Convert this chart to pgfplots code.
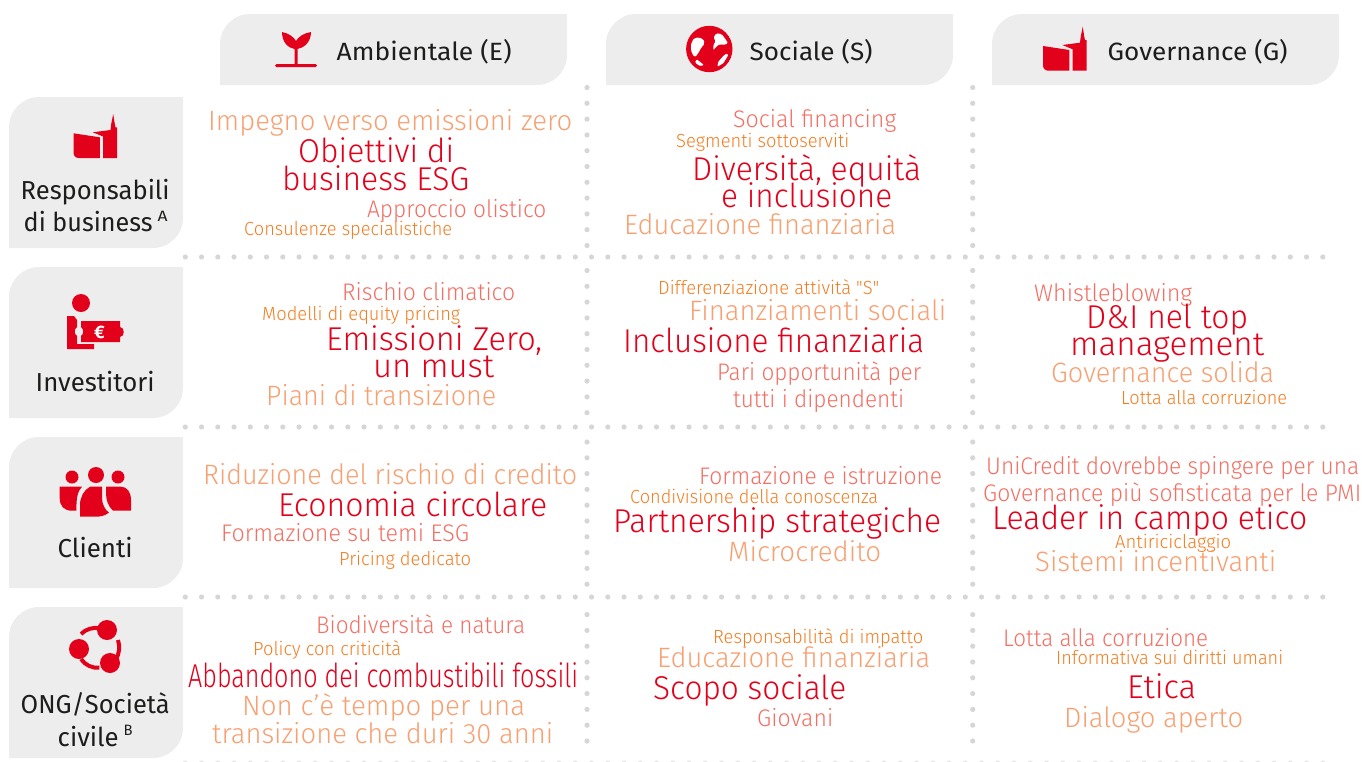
\documentclass[border=0pt]{standalone}
\usepackage{pgfplots}
\usepackage{graphicx}
\usepackage{fontspec}
\pgfplotsset{compat=1.18}
\setmainfont{Fira Sans}
\newfontfamily\lt{Fira Sans Light}
\definecolor{rd}{HTML}{E2001A}
\definecolor{sa}{HTML}{F36F64}
\definecolor{og}{HTML}{F47C20}
\definecolor{lo}{HTML}{F7A072}
\definecolor{gb}{HTML}{EDEDED}
\definecolor{dt}{HTML}{D6D6D6}
\definecolor{tx}{HTML}{1D1D1B}
\newcommand\W[6]{\node[anchor=base west,inner sep=0pt,text=#5] at (axis cs:#1-1,#3) {\resizebox{\dimexpr #2pt-#1pt+2pt\relax}{\height}{\lt\fontsize{#4}{#4}\selectfont #6}};}
\newcommand\WX[4]{\W{#1}{#2}{#3}{33}{rd}{#4}}
\newcommand\WL[4]{\W{#1}{#2}{#3}{28}{lo}{#4}}
\newcommand\WM[4]{\W{#1}{#2}{#3}{24}{sa}{#4}}
\newcommand\WS[4]{\W{#1}{#2}{#3}{19}{og}{#4}}
\newcommand\TT[5]{\node[anchor=base west,inner sep=0pt,text=tx] at (axis cs:#1-0.5,#3) {\resizebox{\dimexpr #2pt-#1pt+1pt\relax}{\height}{\fontsize{#4}{#4}\selectfont #5}};}
\newcommand\Panel[4]{\fill[gb] (axis cs:#1,#4) [rounded corners=30pt] -- (axis cs:#1,#3) [sharp corners] -- (axis cs:#2,#3) [rounded corners=30pt] -- (axis cs:#2,#4) [sharp corners] -- cycle;}
\newcommand\Bldg[2]{%
\fill[rd] (axis cs:#1-2,#2+19) -- (axis cs:#1+24.3,#2+23) -- (axis cs:#1+24.3,#2+43.7) -- (axis cs:#1+3.3,#2+43.7) .. controls (axis cs:#1,#2+43.7) and (axis cs:#1-2,#2+41.5) .. (axis cs:#1-2,#2+38) -- cycle;
\fill[rd] (axis cs:#1+17.3,#2+18) -- (axis cs:#1+35,#2+15.7) -- (axis cs:#1+35.7,#2+9.7) -- (axis cs:#1+37.7,#2-0.3) -- (axis cs:#1+39.3,#2+9.7) -- (axis cs:#1+40,#2+13) -- (axis cs:#1+41.7,#2+13) -- (axis cs:#1+41.7,#2+43.7) -- (axis cs:#1+27.7,#2+43.7) -- (axis cs:#1+27.7,#2+22.3) -- cycle;}
\newcommand\VD[2]{\addplot[dt,line width=5.2pt,line cap=round,dash pattern=on 0pt off 15.8pt] coordinates {(#1,#2)};}
\begin{document}
\begin{tikzpicture}
\begin{axis}[scale only axis,width=1362pt,height=761pt,xmin=0,xmax=1362,ymin=0,ymax=761,y dir=reverse,hide axis,clip=false]
% panels
\Panel{220}{567}{14}{85}
\Panel{606}{953}{14}{85}
\Panel{992}{1339}{14}{85}
\Panel{9}{183}{97}{248}
\Panel{9}{183}{267}{418}
\Panel{9}{183}{437}{588}
\Panel{9}{183}{607}{758}
% dotted rules
\addplot[dt,line width=5.2pt,line cap=round,dash pattern=on 0pt off 16.25pt] coordinates {(185.3,257)(1325,257)};
\addplot[dt,line width=5.2pt,line cap=round,dash pattern=on 0pt off 16.25pt] coordinates {(185.3,427)(1325,427)};
\addplot[dt,line width=5.2pt,line cap=round,dash pattern=on 0pt off 16.25pt] coordinates {(185.3,597)(1325,597)};
\addplot[dt!60,line width=5.2pt,line cap=round,dash pattern=on 0pt off 16.25pt] coordinates {(185.3,763)(1325,763)};
\addplot[dt,line width=5.2pt,line cap=round,dash pattern=on 0pt off 15.8pt] coordinates {(587,87.5)(587,246)};
\addplot[dt,line width=5.2pt,line cap=round,dash pattern=on 0pt off 15.8pt] coordinates {(587,270.5)(587,414)};
\addplot[dt,line width=5.2pt,line cap=round,dash pattern=on 0pt off 15.8pt] coordinates {(587,442)(587,585)};
\addplot[dt,line width=5.2pt,line cap=round,dash pattern=on 0pt off 15.8pt] coordinates {(587,614.6)(587,742)};
\addplot[dt,line width=5.2pt,line cap=round,dash pattern=on 0pt off 15.8pt] coordinates {(972.7,87.5)(972.7,246)};
\addplot[dt,line width=5.2pt,line cap=round,dash pattern=on 0pt off 15.8pt] coordinates {(972.7,270.5)(972.7,414)};
\addplot[dt,line width=5.2pt,line cap=round,dash pattern=on 0pt off 15.8pt] coordinates {(972.7,442)(972.7,585)};
\addplot[dt,line width=5.2pt,line cap=round,dash pattern=on 0pt off 15.8pt] coordinates {(972.7,614.6)(972.7,742)};
% headers
\TT{337}{511}{60}{25}{Ambientale (E)}
\TT{750}{872}{60}{25}{Sociale (S)}
\TT{1108}{1287}{60}{25}{Governance (G)}
% row labels
\TT{21}{169}{199}{26}{Responsabili}
\TT{24}{152}{231}{26}{di business}
\TT{158}{167}{221}{15}{A}
\TT{36}{154}{391}{26}{Investitori}
\TT{58}{132}{557}{26}{Clienti}
\TT{21}{169}{713}{26}{ONG/Società}
\TT{58}{118}{746}{26}{civile}
\TT{124}{132}{735}{15}{B}
% icons
\fill[rd] (axis cs:282,32) .. controls (axis cs:288,33) and (axis cs:294,37) .. (axis cs:296,41) .. controls (axis cs:298,37) and (axis cs:304,33) .. (axis cs:311,32) .. controls (axis cs:311,42) and (axis cs:304,48) .. (axis cs:297.5,49) -- (axis cs:297.5,64) -- (axis cs:294.5,64) -- (axis cs:294.5,49) .. controls (axis cs:288,48) and (axis cs:282,42) .. (axis cs:282,32) -- cycle;
\fill[rd,rounded corners=1.5pt] (axis cs:275,64) rectangle (axis cs:317,67);
% globe
\fill[rd] (axis cs:709.3,49) circle[radius=23.2pt];
\fill[white,rounded corners=2pt] (axis cs:695,37.3) -- (axis cs:702.7,38.3) -- (axis cs:705,43.3) -- (axis cs:700.7,48.3) -- (axis cs:698.3,53.3) -- (axis cs:695,57.3) -- (axis cs:691.7,53.3) -- (axis cs:690.7,46.7) -- (axis cs:691.7,41.7) -- cycle;
\fill[white,rounded corners=1pt] (axis cs:696.7,59.3) -- (axis cs:704,65) -- (axis cs:700,66) -- (axis cs:695,62.7) -- cycle;
\fill[white,rounded corners=1.5pt] (axis cs:716,33.3) -- (axis cs:721.7,34) -- (axis cs:728.3,43.3) -- (axis cs:723.3,45) -- (axis cs:720,44) -- (axis cs:716,46.7) -- (axis cs:713.3,50.7) -- (axis cs:713.3,45) -- (axis cs:716,40.7) -- (axis cs:713.3,38.3) -- cycle;
\fill[white,rounded corners=1pt] (axis cs:726.7,53.3) -- (axis cs:728.3,55) -- (axis cs:723.3,63.3) -- (axis cs:717.3,66.7) -- (axis cs:718.3,61.7) -- (axis cs:723.3,56) -- cycle;
\Bldg{1045}{27}
\Bldg{75.5}{114.3}
% investor
\fill[rd] (axis cs:81,303) circle[radius=9pt];
\fill[rd] (axis cs:67,316) -- (axis cs:74,316) -- (axis cs:77,320) -- (axis cs:77,327) .. controls (axis cs:74,329) and (axis cs:74,334) .. (axis cs:77,336) -- (axis cs:77,344) -- (axis cs:94,344) -- (axis cs:94,349) -- (axis cs:67,349) -- cycle;
\fill[rd] (axis cs:81,321) -- (axis cs:120,321) -- (axis cs:120,327) .. controls (axis cs:125,327) and (axis cs:125,337) .. (axis cs:120,337) -- (axis cs:120,342) -- (axis cs:81,342) -- (axis cs:81,336) .. controls (axis cs:84,334) and (axis cs:84,329) .. (axis cs:81,327) -- cycle;
\node[text=white,font=\fontsize{18}{18}\selectfont\bfseries,inner sep=0pt] at (axis cs:99.5,332) {€};
% clients
\fill[rd] (axis cs:72,477) circle[radius=6.5pt];
\fill[rd] (axis cs:96,475) circle[radius=8pt];
\fill[rd] (axis cs:118,477) circle[radius=6.5pt];
\fill[rd] (axis cs:59.7,486.7) -- (axis cs:82,486.7) .. controls (axis cs:78,491) and (axis cs:76,497) .. (axis cs:76.5,510.7) -- (axis cs:72,510.7) .. controls (axis cs:64,510.7) and (axis cs:59.7,506) .. (axis cs:59.7,498) -- cycle;
\fill[rd] (axis cs:80,516.7) -- (axis cs:80,505) .. controls (axis cs:80,497) and (axis cs:84,490) .. (axis cs:90,486.7) -- (axis cs:102,486.7) -- (axis cs:102,498) .. controls (axis cs:102,504) and (axis cs:105,510) .. (axis cs:109,512.5) .. controls (axis cs:105,516) and (axis cs:100,516.7) .. (axis cs:95,516.7) -- cycle;
\fill[rd] (axis cs:106,486.7) -- (axis cs:121,486.7) .. controls (axis cs:127,486.7) and (axis cs:131,492) .. (axis cs:131,500) -- (axis cs:131,510.7) -- (axis cs:113,510.7) .. controls (axis cs:108,506) and (axis cs:106,500) .. (axis cs:106,493) -- cycle;
% NGO
\fill[rd] (axis cs:107,630) circle[radius=10pt];
\fill[rd] (axis cs:79,649) circle[radius=10pt];
\fill[rd] (axis cs:110,663) circle[radius=10pt];
\draw[rd,line width=4pt] (axis cs:81,634) arc[start angle=135,end angle=78,radius=21pt];
\draw[rd,line width=4pt] (axis cs:118,640) arc[start angle=18,end angle=-30,radius=24pt];
\draw[rd,line width=4pt] (axis cs:81,659) arc[start angle=214,end angle=275,radius=20pt];
% Row 1
\WL{209}{571}{130}{Impegno verso emissioni zero}
\WX{299}{453}{162}{Obiettivi di}
\WX{283}{468}{190}{business ESG}
\WM{368}{545}{217}{Approccio olistico}
\WS{245}{451}{235}{Consulenze specialistiche}
\WM{734}{895}{127}{Social financing}
\WS{677}{848}{147}{Segmenti sottoserviti}
\WX{693}{920}{180}{Diversità, equità}
\WX{722}{891}{207}{e inclusione}
\WL{625}{895}{234}{Educazione finanziaria}
% Row 2
\WM{343}{514}{300}{Rischio climatico}
\WS{263}{459}{320}{Modelli di equity pricing}
\WX{327}{541}{350}{Emissioni Zero,}
\WX{374}{493}{377}{un must}
\WL{267}{495}{405}{Piani di transizione}
\WS{659}{878}{294}{Differenziazione attività "S"}
\WL{690}{945}{320}{Finanziamenti sociali}
\WX{624}{923}{352}{Inclusione finanziaria}
\WM{718}{920}{380}{Pari opportunità per}
\WM{734}{903}{407}{tutti i dipendenti}
\WM{1035}{1191}{301}{Whistleblowing}
\WX{1087}{1247}{328}{D\&I nel top}
\WX{1071}{1263}{355}{management}
\WL{1052}{1273}{382}{Governance solida}
\WS{1122}{1286}{404}{Lotta alla corruzione}
% Row 3
\WL{204}{576}{484}{Riduzione del rischio di credito}
\WX{279}{546}{516}{Economia circolare}
\WM{222}{468}{541}{Formazione su temi ESG}
\WS{340}{470}{565}{Pricing dedicato}
\WM{700}{941}{484}{Formazione e istruzione}
\WS{631}{877}{503}{Condivisione della conoscenza}
\WX{614}{940}{532}{Partnership strategiche}
\WL{729}{880}{561}{Microcredito}
\WM{987}{1358}{474}{UniCredit dovrebbe spingere per una}
\WM{984}{1360}{501}{Governance più sofisticata per le PMI}
\WX{993}{1306}{529}{Leader in campo etico}
\WS{1116}{1230}{548}{Antiriciclaggio}
\WL{1036}{1275}{571}{Sistemi incentivanti}
% Row 4
\WM{317}{524}{633}{Biodiversità e natura}
\WS{254}{400}{655}{Policy con criticità}
\WX{189}{577}{687}{Abbandono dei combustibili fossili}
\WL{243}{524}{715}{Non c’è tempo per una}
\WL{213}{552}{743}{transizione che duri 30 anni}
\WS{714}{922}{643}{Responsabilità di impatto}
\WL{658}{929}{667}{Educazione finanziaria}
\WX{654}{845}{699}{Scopo sociale}
\WM{758}{832}{726}{Giovani}
\WM{1004}{1207}{646}{Lotta alla corruzione}
\WS{1057}{1282}{664}{Informativa sui diritti umani}
\WX{1128}{1195}{698}{Etica}
\WL{1065}{1242}{727}{Dialogo aperto}
\end{axis}
\pgfresetboundingbox
\path (0,0) rectangle (1362pt,761pt);
\end{tikzpicture}
\end{document}
